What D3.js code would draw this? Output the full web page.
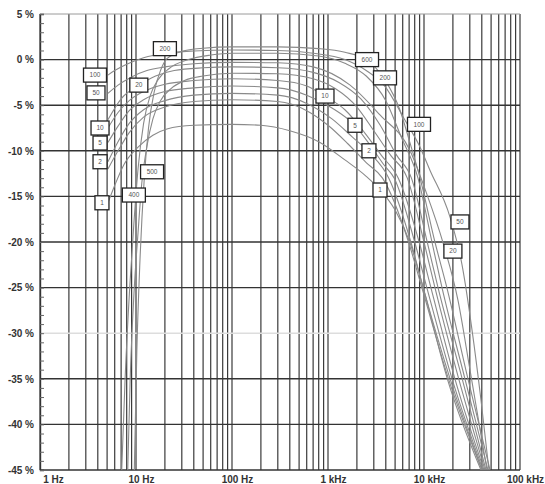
<!DOCTYPE html>
<html><head><meta charset="utf-8">
<script src="https://cdn.jsdelivr.net/npm/d3@7"></script>
<style>body{margin:0;background:#fff}svg{display:block}</style>
</head><body>
<svg id="chart" width="545" height="484"></svg>
<script>
// ---- axis data ----
const xTickValues = [1, 10, 100, 1000, 10000, 100000];
const xTickLabels = ["1 Hz", "10 Hz", "100 Hz", "1 kHz", "10 kHz", "100 kHz"];
const yTickValues = [5, 0, -5, -10, -15, -20, -25, -30, -35, -40, -45];
const yTickLabels = ["5 %", "0 %", "-5 %", "-10 %", "-15 %", "-20 %", "-25 %", "-30 %", "-35 %", "-40 %", "-45 %"];

// ---- curves: [frequency Hz, deviation %] ----
const curve200 = [[9.6,-45],[10.2,-32],[11,-22],[12.2,-13],[13.5,-7.5],[15.5,-3.5],[18,-1.2],[21,0.1],[30,0.9],[50,1.25],[100,1.4],[300,1.4],[800,1.2],[1500,0.8],[2500,0.0],[3900,-2.2],[5600,-5.5],[7000,-8.8],[9100,-13],[13000,-20],[17300,-25],[28700,-35],[48700,-45]];
const curve100 = [[5.1,-1.7],[6,-1.2],[8,-0.5],[12,0.2],[20,0.7],[40,0.95],[100,1.05],[300,1.0],[700,0.7],[1500,0],[2500,-1.2],[3900,-2.9],[6300,-6.6],[8900,-9.4],[11500,-12.1],[18700,-17.3],[24900,-22.5],[31600,-29.6],[39200,-37.3],[47500,-45]];
const curve400 = [[7.1,-45],[7.7,-35],[8.6,-25],[9.5,-18],[10.5,-12],[12,-7],[14,-4],[17,-2.2],[22,-1],[35,0],[60,0.5],[100,0.7],[300,0.7],[800,0.4],[1500,-0.4],[2500,-1.8],[4000,-4.5],[5800,-8.5],[8660,-13],[12100,-20],[15400,-25],[26700,-35],[46400,-45]];
const curve50 = [[5.1,-3.7],[6.5,-2.8],[9,-1.9],[13,-1.2],[20,-0.8],[40,-0.45],[100,-0.3],[300,-0.35],[700,-0.8],[1700,-2.8],[3500,-6.1],[7100,-9.9],[10500,-14.5],[15800,-20.1],[22600,-26.4],[30100,-34],[45300,-45]];
const curve20 = [[5.1,-6.6],[7,-4.3],[10.8,-2.8],[16,-1.8],[25,-1.2],[50,-0.9],[100,-0.8],[300,-0.9],[700,-1.4],[1300,-2.5],[2200,-4.3],[3500,-7.2],[5200,-10.5],[7400,-13],[10800,-20],[14000,-25],[25000,-35],[44200,-45]];
const curve500 = [[8.2,-45],[8.7,-35],[9.6,-25],[10.5,-19],[11.5,-13.5],[13,-9.5],[15,-6.5],[18,-4.5],[23,-3.2],[32,-2.3],[50,-1.8],[100,-1.5],[300,-1.55],[700,-2.1],[1200,-3.2],[2000,-5.2],[3000,-7.8],[4500,-10.5],[6700,-13],[10000,-20],[13000,-25],[23000,-35],[43200,-45]];
const curve10 = [[5.1,-7.5],[6.5,-5.8],[8.5,-4.5],[12,-3.5],[20,-2.7],[40,-2.3],[100,-2.1],[300,-2.3],[600,-2.9],[930,-4.0],[1500,-5.5],[2400,-8],[3600,-10.5],[5400,-13],[8900,-20],[11800,-25],[21000,-35],[42200,-45]];
const curve5 = [[5.1,-9.1],[6.5,-7.3],[8.5,-5.6],[12,-4.4],[20,-3.5],[40,-3.1],[100,-2.9],[300,-3.1],[600,-3.9],[1100,-5.3],[1900,-7.2],[2800,-9.5],[3800,-11.5],[4900,-13],[8000,-20],[10700,-25],[19600,-35],[41200,-45]];
const curve2 = [[5.1,-11.2],[6.5,-9],[8.5,-7],[12,-5.5],[20,-4.5],[40,-3.9],[100,-3.7],[300,-3.9],[600,-4.8],[1100,-6.5],[1800,-8.5],[2700,-10.2],[4300,-13],[7300,-20],[9800,-25],[18700,-35],[40200,-45]];
const curve2b = [[5.1,-12.0],[6.5,-10],[8.5,-8],[12,-6.3],[20,-5.2],[40,-4.6],[100,-4.4],[300,-4.6],[600,-5.6],[1000,-7.2],[1600,-9.2],[2500,-11.3],[3700,-13],[6900,-20],[9500,-25],[18000,-35],[40200,-45]];
const curve1 = [[5.1,-15.7],[6,-13.8],[7.5,-11.5],[10.5,-9.6],[15,-8.3],[21,-7.6],[40,-7.2],[100,-7.1],[200,-7.2],[400,-7.8],[800,-9],[1500,-11],[2500,-12.8],[3500,-14.3],[5000,-16.5],[7100,-20],[9800,-25],[17500,-35],[39200,-45]];
const curves = [curve200, curve100, curve400, curve50, curve20, curve500, curve10, curve5, curve2, curve2b, curve1];

// ---- label boxes: [text, frequency Hz, %] ----
const labelTexts = ["200","100","50","20","10","5","2","500","400","1","600","200","10","5","100","2","1","50","20"];
const labelFreqs = [20, 3.74, 3.83, 10.7, 4.22, 4.22, 4.22, 14.7, 9.5, 4.42, 2550, 3925, 930, 1910, 8870, 2670, 3480, 23700, 20000];
const labelValues = [1.2, -1.7, -3.65, -2.8, -7.5, -9.15, -11.2, -12.3, -14.85, -15.7, 0.0, -2.0, -4.0, -7.2, -7.1, -10.0, -14.3, -17.8, -21.0];

// ---- drawing ----
const svg = d3.select("#chart");
const L = 40, R = 520, T = 14, B = 470;
const x = d3.scaleLog().domain([1, 100000]).range([L, R]);
const y = d3.scaleLinear().domain([-45, 5]).range([B, T]);

svg.append("rect").attr("width", 545).attr("height", 484).attr("fill", "#fff");

// vertical grid
const vgrid = x.ticks().filter(v => v >= 1 && v <= 100000);
svg.append("g").selectAll("line").data(vgrid).join("line")
  .attr("x1", d => x(d)).attr("x2", d => x(d))
  .attr("y1", T).attr("y2", B)
  .attr("stroke", "#3a3a3a").attr("stroke-width", 1.2);

// horizontal grid
svg.append("g").selectAll("line").data(yTickValues).join("line")
  .attr("x1", L).attr("x2", R)
  .attr("y1", d => y(d)).attr("y2", d => y(d))
  .attr("stroke", d => d === -30 ? "#dddddd" : (d === 5 ? "#9a9a9a" : "#333"))
  .attr("stroke-width", d => d === 5 ? 1 : 1.4);

// minor ticks on left (every 1 %)
const minorAxis = d3.axisRight(y).tickValues(d3.range(-45, 6, 1)).tickSize(4).tickFormat("");
const gm = svg.append("g").attr("transform", `translate(${L},0)`).call(minorAxis);
gm.select(".domain").attr("stroke", "#333").attr("stroke-width", 1.4);
gm.selectAll(".tick line").attr("stroke", "#666").attr("stroke-width", 1);

// y labels
const yAxis = d3.axisLeft(y).tickValues(yTickValues).tickSize(0).tickPadding(6)
  .tickFormat((d, i) => yTickLabels[i]);
const gy = svg.append("g").attr("transform", `translate(${L},0)`).call(yAxis);
gy.select(".domain").remove();
gy.selectAll("text").attr("font-family", "Liberation Sans, Arial, sans-serif")
  .attr("font-size", 10).attr("font-weight", "bold").attr("fill", "#333");

// x labels
const xAxis = d3.axisBottom(x).tickValues(xTickValues).tickSize(0).tickPadding(6)
  .tickFormat((d, i) => xTickLabels[i]);
const gx = svg.append("g").attr("transform", `translate(0,${B})`).call(xAxis);
gx.select(".domain").remove();
gx.selectAll("text").attr("font-family", "Liberation Sans, Arial, sans-serif")
  .attr("font-size", 10).attr("font-weight", "bold").attr("fill", "#333")
  .attr("dx", (d, i) => i === 0 ? 13 : 5);

// clip
svg.append("clipPath").attr("id", "clip").append("rect")
  .attr("x", L).attr("y", T).attr("width", R - L).attr("height", B - T);

const line = d3.line().x(d => x(d[0])).y(d => y(d[1])).curve(d3.curveMonotoneX);
svg.append("g").attr("clip-path", "url(#clip)").selectAll("path").data(curves).join("path")
  .attr("d", line).attr("fill", "none").attr("stroke", "#8a8a8a").attr("stroke-width", 1.1);

// labels
const lab = svg.append("g").selectAll("g").data(labelTexts).join("g")
  .attr("transform", (d, i) => `translate(${x(labelFreqs[i])},${y(labelValues[i])})`);
const bw = t => t.length === 1 ? 14 : (t.length === 2 ? 18 : 23);
lab.append("rect").attr("x", d => -bw(d) / 2).attr("y", -7).attr("width", d => bw(d)).attr("height", 14)
  .attr("fill", "#fff").attr("stroke", "#222").attr("stroke-width", 1.3);
lab.append("text").text(d => d).attr("text-anchor", "middle").attr("dy", "0.35em")
  .attr("font-family", "Liberation Sans, Arial, sans-serif").attr("font-size", 6.5).attr("fill", "#555");
</script>
</body></html>
